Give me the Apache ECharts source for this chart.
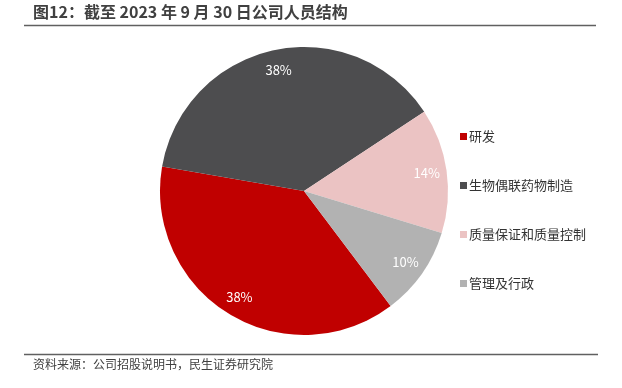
<!DOCTYPE html>
<html><head><meta charset="utf-8">
<script src="https://cdn.jsdelivr.net/npm/echarts@6/dist/echarts.min.js"></script>
<style>html,body{margin:0;padding:0;background:#fff}#c{width:622px;height:388px}</style>
</head><body><div id="c"></div>
<script>
const categories = ['研发', '生物偶联药物制造', '质量保证和质量控制', '管理及行政'];
const values = [38, 38, 14, 10];
const colors = ['#C00000', '#4D4D4F', '#EBC3C3', '#B2B2B2'];
const titleText = '图12：截至 2023 年 9 月 30 日公司人员结构';
const sourceText = '资料来源：公司招股说明书，民生证券研究院';

const data = categories.map((n, i) => ({ name: n, value: values[i], itemStyle: { color: colors[i] } }));
const font = '"Noto Sans CJK SC", "Noto Sans", sans-serif';
const chart = echarts.init(document.getElementById('c'), null, { renderer: 'canvas' });
chart.setOption({
  animation: false,
  textStyle: { fontFamily: font },
  graphic: [
    { type: 'text', left: 33, top: 4, style: { text: titleText, font: 'bold 16px ' + font, fill: '#404040' } },
    { type: 'line', shape: { x1: 24, y1: 25.5, x2: 596, y2: 25.5 }, style: { stroke: '#606060', lineWidth: 1.5 } },
    { type: 'line', shape: { x1: 24, y1: 354.5, x2: 598, y2: 354.5 }, style: { stroke: '#606060', lineWidth: 1.5 } },
    { type: 'text', left: 33, top: 358, style: { text: sourceText, font: '12px ' + font, fill: '#404040' } }
  ],
  legend: {
    orient: 'vertical', left: 455, top: 125,
    icon: 'rect', itemWidth: 7, itemHeight: 7, itemGap: 36,
    textStyle: { fontSize: 13, color: '#333', fontFamily: font, padding: [0, 0, 0, -3] },
    data: categories
  },
  series: [
    {
      type: 'pie', center: [304, 191], radius: [0, 144], startAngle: 307, clockwise: true,
      label: { show: false }, labelLine: { show: false }, data: data, silent: true
    },
    {
      type: 'pie', center: [304, 191], radius: [98, 144], startAngle: 307, clockwise: true,
      itemStyle: { color: 'rgba(0,0,0,0)' }, silent: true, legendHoverLink: false,
      label: { show: true, position: 'inside', formatter: '{c}%', color: '#fff', fontSize: 13, fontFamily: font },
      labelLine: { show: false },
      data: categories.map((n, i) => ({ name: n + ' ', value: values[i], itemStyle: { color: 'rgba(0,0,0,0)' } }))
    }
  ]
});
</script></body></html>
